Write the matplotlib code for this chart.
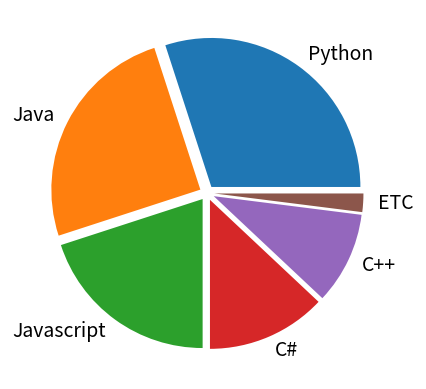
import matplotlib
matplotlib.use("Agg")
import matplotlib.pyplot as plt

plt.rcParams['font.family'] = ['Noto Sans CJK KR', 'DejaVu Sans']

# data
labels = ['Python', 'Java', 'Javascript', 'C#', 'C++', 'ETC']
ratio = [30, 25, 20, 13, 10, 2]
explode = [0.05, 0.05, 0.05, 0.05, 0.05, 0.05]

fig = plt.figure(figsize=(4.26, 3.89), dpi=100)
ax = fig.add_axes([0, 0, 1, 1])
ax.pie(ratio, labels=labels, explode=explode, textprops={'fontsize': 14})

# place pie center / scale like the reference
s = 149.0
ax.set_xlim(-207 / s, (426 - 207) / s)
ax.set_ylim(-(389 - 193) / s, 193 / s)
ax.set_aspect('equal')

fig.savefig("out.png", dpi=100)
